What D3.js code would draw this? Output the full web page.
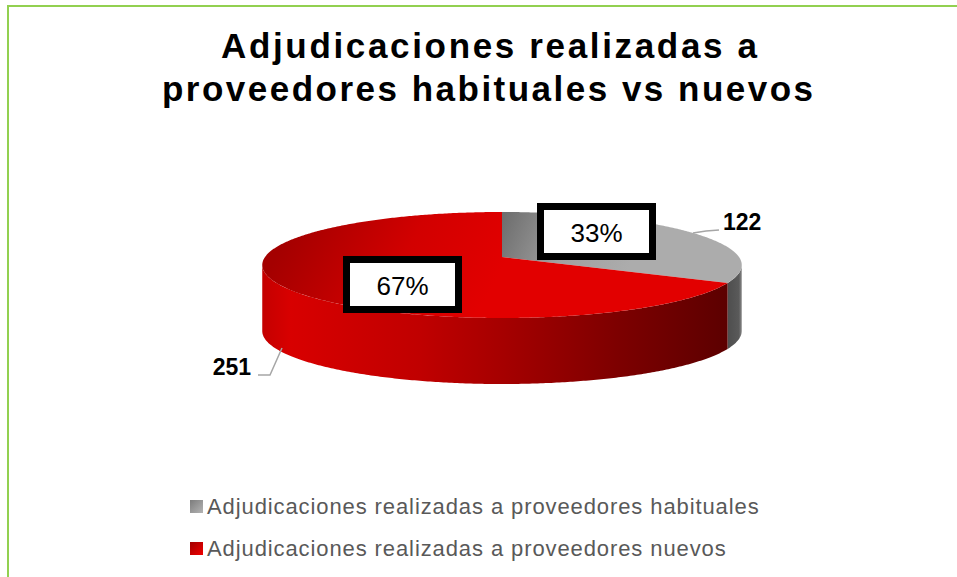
<!DOCTYPE html>
<html>
<head>
<meta charset="utf-8">
<script src="https://cdn.jsdelivr.net/npm/d3@7"></script>
<style>
  body { margin: 0; background: #fff; }
  text { font-family: Arial, "Liberation Sans", sans-serif; }
</style>
</head>
<body>
<div id="chart"></div>
<script>
// data
var categories = ["Adjudicaciones realizadas a proveedores habituales", "Adjudicaciones realizadas a proveedores nuevos"];
var values = [122, 251];
var percentLabels = ["33%", "67%"];
var titleLines = ["Adjudicaciones realizadas a", "proveedores habituales vs nuevos"];

var svgWidth = 957, svgHeight = 577;

var svg = d3.select("#chart").append("svg")
  .attr("width", svgWidth)
  .attr("height", svgHeight);

var defs = svg.append("defs");

// gradients (user space so the shading runs across the whole pie)
function linGrad(id, stops, x1, y1, x2, y2) {
  var g = defs.append("linearGradient").attr("id", id)
    .attr("gradientUnits", "userSpaceOnUse")
    .attr("x1", x1).attr("y1", y1).attr("x2", x2).attr("y2", y2);
  stops.forEach(s => g.append("stop").attr("offset", s[0]).attr("stop-color", s[1]));
}
linGrad("redSide", [["0%", "#c40000"], ["6%", "#d80000"], ["33%", "#c00000"], ["50%", "#a60000"], ["75%", "#7c0000"], ["100%", "#580000"]], 262, 0, 741, 0);
linGrad("redTop", [["0%", "#a40000"], ["55%", "#d20000"], ["100%", "#e20000"]], 300, 212, 480, 310);
linGrad("grayTop", [["0%", "#6e6e6e"], ["50%", "#a0a0a0"], ["100%", "#acacac"]], 505, 212, 630, 265);
linGrad("graySide", [["0%", "#4c4c4c"], ["80%", "#5a5a5a"], ["100%", "#8a8a8a"]], 726, 0, 742, 0);
linGrad("grayKey", [["0%", "#7c7c7c"], ["100%", "#b4b4b4"]], 0, 0, 13, 13);
linGrad("redKey", [["0%", "#a00000"], ["100%", "#f00000"]], 0, 0, 13, 13);

// chart area border
svg.append("rect")
  .attr("x", 8).attr("y", 6)
  .attr("width", 1000).attr("height", 700)
  .attr("fill", "none")
  .attr("stroke", "#92d050")
  .attr("stroke-width", 2);

// title
var titleX = [489, 487.5], titleY = [58, 101], titleLen = [536, 651];
svg.selectAll("text.title").data(titleLines).join("text")
  .attr("class", "title")
  .attr("x", (d, i) => titleX[i]).attr("y", (d, i) => titleY[i])
  .attr("text-anchor", "middle")
  .attr("font-size", 35).attr("font-weight", "bold")
  .attr("textLength", (d, i) => titleLen[i])
  .attr("lengthAdjust", "spacing")
  .attr("fill", "#000")
  .text(d => d);

// 3D pie with a little perspective
var cx = 502, cy = 257, A = 237, B = 51.8, persp = 0.151, depth = 66;
var pie = d3.pie().sort(null).value(d => d);
var arcs = pie(values);

function proj(a, dy) {
  var x = Math.sin(a), z = -Math.cos(a);
  var s = 1 / (1 - persp * z);
  return [cx + A * x * s, cy + B * z * s + (dy || 0)];
}

function rim(a0, a1, dy) {
  var n = Math.max(2, Math.ceil((a1 - a0) / 0.01));
  return d3.range(n + 1).map(i => proj(a0 + (a1 - a0) * i / n, dy));
}

var line = d3.line();

function topPath(d) {
  return line([[cx, cy]].concat(rim(d.startAngle, d.endAngle))) + "Z";
}

var sideFrom = Math.acos(-persp), sideTo = 2 * Math.PI - Math.acos(-persp);

function sidePath(d) {
  var a0 = Math.max(d.startAngle, sideFrom);
  var a1 = Math.min(d.endAngle, sideTo);
  if (a1 <= a0) return null;
  return line(rim(a0, a1).concat(rim(a0, a1, depth).reverse())) + "Z";
}

var topFill = ["url(#grayTop)", "url(#redTop)"];
var sideFill = ["url(#graySide)", "url(#redSide)"];

var pieGroup = svg.append("g");

pieGroup.selectAll("path.side")
  .data(arcs.filter(d => sidePath(d)))
  .join("path")
  .attr("class", "side")
  .attr("d", sidePath)
  .attr("fill", d => sideFill[d.index]);

pieGroup.selectAll("path.top")
  .data(arcs)
  .join("path")
  .attr("class", "top")
  .attr("d", topPath)
  .attr("fill", d => topFill[d.index]);

// percent boxes
var boxPos = [[596.5, 231.5], [402.5, 284.5]];
var boxes = svg.selectAll("g.pbox").data(arcs).join("g")
  .attr("class", "pbox")
  .attr("transform", d => `translate(${boxPos[d.index][0]},${boxPos[d.index][1]})`);

boxes.append("rect")
  .attr("x", -56).attr("y", -25)
  .attr("width", 112).attr("height", 50)
  .attr("fill", "#fff")
  .attr("stroke", "#000")
  .attr("stroke-width", 7);

boxes.append("text")
  .attr("text-anchor", "middle")
  .attr("y", 10)
  .attr("font-size", 26)
  .attr("fill", "#000")
  .text((d, i) => percentLabels[i]);

// value labels with leader lines
var leaderLines = [
  [[693, 233], [706, 231], [719, 230]],
  [[258, 375], [270, 375], [282, 348]]
];
svg.selectAll("path.leader").data(leaderLines).join("path")
  .attr("class", "leader")
  .attr("d", d => d3.line()(d))
  .attr("fill", "none")
  .attr("stroke", "#a6a6a6")
  .attr("stroke-width", 1.5);

var valuePos = [[723, 230, "start"], [251, 375, "end"]];
svg.selectAll("text.val").data(values).join("text")
  .attr("class", "val")
  .attr("x", (d, i) => valuePos[i][0])
  .attr("y", (d, i) => valuePos[i][1])
  .attr("text-anchor", (d, i) => valuePos[i][2])
  .attr("font-size", 23).attr("font-weight", "bold")
  .attr("fill", "#000")
  .text(d => d);

// legend
var keyFill = ["url(#grayKey)", "url(#redKey)"];
var legend = svg.selectAll("g.legend").data(categories).join("g")
  .attr("class", "legend")
  .attr("transform", (d, i) => `translate(190, ${500 + i * 42})`);

legend.append("rect")
  .attr("x", 0).attr("y", 0)
  .attr("width", 13).attr("height", 13)
  .attr("fill", (d, i) => keyFill[i]);

legend.append("text")
  .attr("x", 17).attr("y", 14)
  .attr("font-size", 22)
  .attr("letter-spacing", 0.9)
  .attr("fill", "#595959")
  .text(d => d);
</script>
</body>
</html>
